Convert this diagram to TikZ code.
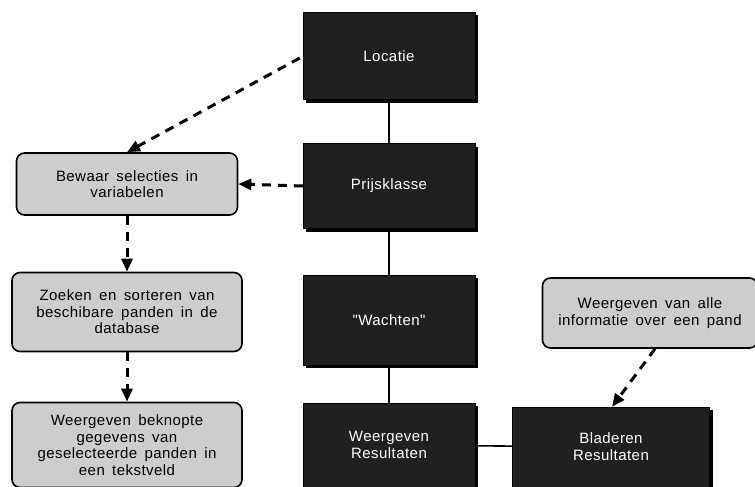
\documentclass[tikz,border=0pt]{standalone}
\usepackage{fontspec}
\setmainfont{Liberation Sans}[LetterSpace=3, WordSpace={1.6}, Ligatures=TeXOff]
\usetikzlibrary{arrows.meta, shadows}
\definecolor{boxdark}{RGB}{32,32,32}
\definecolor{boxlight}{RGB}{205,205,205}
\tikzset{
    scherm/.style={draw=black, fill=boxdark, text=white, minimum width=172pt,
        align=center, font=\fontsize{15}{17}\selectfont,
        drop shadow={shadow xshift=3pt, shadow yshift=-3pt, fill=black, opacity=1}},
    taak/.style={draw=black, line width=1.6pt, fill=boxlight, rounded corners=8pt,
        align=center, font=\fontsize{15}{16.5}\selectfont, inner sep=1pt},
    stroom/.style={line width=3pt, dash pattern=on 9pt off 7pt, -{Triangle[length=13pt, width=11pt]}},
    lijn/.style={line width=1.6pt}
}
\begin{document}
\begin{tikzpicture}[x=1pt, y=-1pt]
    \useasboundingbox (0,0) rectangle (755,487);
    % hoofdschermen
    \node[scherm, minimum height=87pt] (locatie) at (389,56) {Locatie};
    \node[scherm, minimum height=85pt] (prijs) at (389,186) {Prijsklasse};
    \node[scherm, minimum height=90pt] (wachten) at (389,320) {"Wachten"};
    \node[scherm, minimum height=84pt] (resultaten) at (389,445) {Weergeven\\Resultaten};
    \node[scherm, minimum width=197pt, minimum height=80pt] (bladeren) at (611,447) {Bladeren\\Resultaten};
    % taken
    \node[taak, minimum width=221pt, minimum height=62pt] (bewaar) at (127,184) {Bewaar selecties in\\variabelen};
    \node[taak, minimum width=230pt, minimum height=79pt] (zoeken) at (127,312) {Zoeken en sorteren van\\beschibare panden in de\\database};
    \node[taak, minimum width=230pt, minimum height=85pt] (beknopt) at (127,445) {Weergeven beknopte\\gegevens van\\geselecteerde panden in\\een tekstveld};
    \node[taak, minimum width=215pt, minimum height=70pt] (alle) at (650,313) {Weergeven van alle\\informatie over een pand};
    % verbindingen
    \draw[lijn] (locatie) -- (prijs);
    \draw[lijn] (prijs) -- (wachten);
    \draw[lijn] (wachten) -- (resultaten);
    \draw[lijn] (resultaten) -- (bladeren);
    \draw[stroom] (locatie.west) ++(-3,2) coordinate (l1) -- (bewaar.north);
    \draw[stroom] (prijs.west) -- (bewaar.east);
    \draw[stroom] (bewaar) -- (zoeken);
    \draw[stroom] (zoeken) -- (beknopt);
    \draw[stroom] (alle.south) ++(5,0) coordinate (a1) -- ([xshift=1pt]bladeren.north);
\end{tikzpicture}
\end{document}
